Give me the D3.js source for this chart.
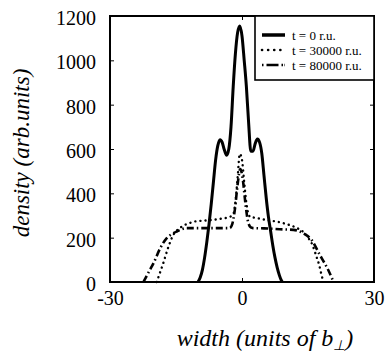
<!DOCTYPE html>
<html><head><meta charset="utf-8">
<script src="https://cdn.jsdelivr.net/npm/d3@7"></script>
<style>body{margin:0;background:#fff}svg{display:block}</style>
</head><body>
<svg id="c" width="385" height="353"></svg>
<script>
const seriesNames = ["t = 0 r.u.", "t = 30000 r.u.", "t = 80000 r.u."];
const xTicks = [-30, 0, 30];
const yTicks = [0, 200, 400, 600, 800, 1000, 1200];

const x0 = [-10,-9.5,-9,-8.5,-8,-7.5,-7,-6.5,-6,-5.5,-5,-4.5,-4,-3.5,-3,-2.5,-2,-1.5,-1,-0.5,0,0.5,1,1.5,2,2.5,3,3.5,4,4.5,5,5.5,6,6.5,7,7.5,8,8.5,9,9.2];
const y0 = [0,20,55,110,180,260,350,450,550,615,642,630,595,572,600,700,880,1030,1125,1155,1110,1000,880,720,590,590,625,645,630,580,480,380,295,230,165,110,65,30,5,0];

const x1 = [-19.4,-18.5,-17.9,-16.7,-15.6,-14.5,-13.7,-12,-11,-8,-6,-4,-3,-2,-1.5,-1,-0.5,0,0.5,1,1.5,2,3,4,6,8,10,12,13,14,15,16,17,17.5,18,18.5];
const y1 = [0,50,85,160,213,238,250,265,272,278,282,288,292,305,360,470,578,550,450,355,305,292,290,286,278,272,262,248,238,225,200,168,110,80,38,0];

const x2 = [-22.4,-21.2,-20.1,-18.6,-17.1,-15.8,-14.8,-12.6,-10,-6,-2.8,-2.2,-1.6,-1,-0.4,0.2,0.8,1.4,2,2.5,5,8.6,11.7,13.9,15.8,17.7,19.6,20.8];
const y2 = [0,45,85,152,198,218,228,243,243,243,243,262,330,440,510,460,350,270,246,243,242,238,235,220,190,122,54,0];

const svg = d3.select("#c");
const L = 110, R = 374, T = 16, B = 282;
const xs = d3.scaleLinear().domain([-30, 30]).range([L, R]);
const ys = d3.scaleLinear().domain([0, 1200]).range([B, T]);
const serif = "'Liberation Serif','Times New Roman',serif";

const gx = svg.append("g").attr("transform", `translate(0,${B})`)
  .call(d3.axisBottom(xs).tickValues(xTicks).tickSize(-4).tickFormat(d => d));
const gxt = svg.append("g").attr("transform", `translate(0,${T})`)
  .call(d3.axisTop(xs).tickValues(xTicks).tickSize(-4).tickFormat(""));
const gy = svg.append("g").attr("transform", `translate(${L},0)`)
  .call(d3.axisLeft(ys).tickValues(yTicks).tickSize(-4).tickFormat(d => d).tickPadding(14));
const gyr = svg.append("g").attr("transform", `translate(${R},0)`)
  .call(d3.axisRight(ys).tickValues(yTicks).tickSize(-4).tickFormat(""));
[gx, gxt, gy, gyr].forEach(g => {
  g.select(".domain").remove();
  g.selectAll("line").attr("stroke", "#000").attr("stroke-width", 1);
  g.selectAll("text").attr("font-family", serif).attr("font-size", 20).attr("fill", "#000");
});
gx.selectAll("text").attr("dy", null).attr("y", 23);
gy.selectAll("text").attr("dy", "0.42em");

svg.append("rect").attr("x", L).attr("y", T).attr("width", R - L).attr("height", B - T)
  .attr("fill", "none").attr("stroke", "#000").attr("stroke-width", 2);

const line = d3.line().x(d => xs(d[0])).y(d => ys(d[1])).curve(d3.curveMonotoneX);
const styles = [
  {w: 3, dash: null, cap: "butt"},
  {w: 2.4, dash: "0.1,5", cap: "round"},
  {w: 2.6, dash: "7,3,1.5,3", cap: "butt"}
];
const data = [d3.zip(x0, y0), d3.zip(x1, y1), d3.zip(x2, y2)];
data.forEach((d, i) => {
  svg.append("path").datum(d).attr("d", line).attr("fill", "none")
    .attr("stroke", "#000").attr("stroke-width", styles[i].w)
    .attr("stroke-dasharray", styles[i].dash).attr("stroke-linecap", styles[i].cap)
    .attr("stroke-linejoin", "round");
});

const lg = svg.append("g");
lg.append("rect").attr("x", 255).attr("y", T).attr("width", R - 255).attr("height", 80 - T)
  .attr("fill", "#fff").attr("stroke", "#000").attr("stroke-width", 1.6);
seriesNames.forEach((n, i) => {
  const y = 35 + i * 15;
  lg.append("line").attr("x1", 262).attr("x2", 285).attr("y1", y).attr("y2", y)
    .attr("stroke", "#000").attr("stroke-width", i === 0 ? 3.5 : 2.6)
    .attr("stroke-dasharray", i === 1 ? "0.1,6" : i === 2 ? "1.5,3,12,3,1.5" : null)
    .attr("stroke-linecap", i === 1 ? "round" : "butt");
  lg.append("text").attr("x", 292).attr("y", y + 4.5).attr("font-family", serif)
    .attr("font-size", 13).text(n);
});

svg.append("text").attr("transform", "translate(29,153) rotate(-90)")
  .attr("text-anchor", "middle").attr("font-family", serif).attr("font-style", "italic")
  .attr("font-size", 23).text("density (arb.units)");
const xt = svg.append("text").attr("x", 265).attr("y", 346).attr("text-anchor", "middle")
  .attr("font-family", serif).attr("font-style", "italic").attr("font-size", 24);
xt.append("tspan").text("width (units of b");
xt.append("tspan").attr("font-size", 14).attr("dy", 4).text("⊥");
xt.append("tspan").attr("dy", -4).text(")");
</script>
</body></html>
